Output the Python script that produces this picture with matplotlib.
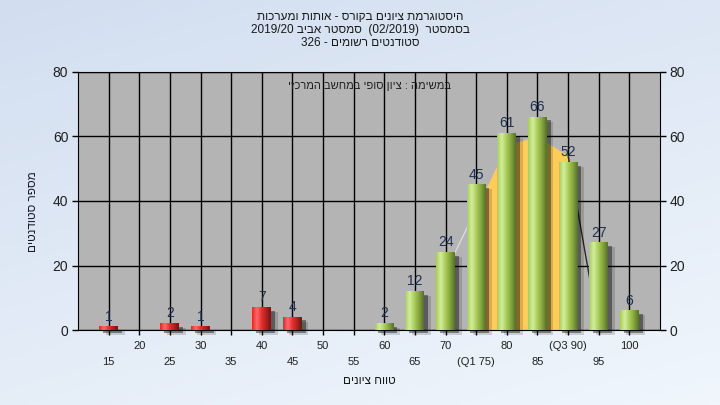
import numpy as np
import matplotlib
matplotlib.use('Agg')
import matplotlib.pyplot as plt
from matplotlib.colors import LinearSegmentedColormap

plt.rcParams['font.family'] = ['Liberation Sans', 'DejaVu Sans']

# data
grades = [15, 20, 25, 30, 35, 40, 45, 50, 55, 60, 65, 70, 75, 80, 85, 90, 95, 100]
counts = [1, 0, 2, 1, 0, 7, 4, 0, 0, 2, 12, 24, 45, 61, 66, 52, 27, 6]
tick_labels = ['15', '20', '25', '30', '35', '40', '45', '50', '55', '60', '65', '70',
               '(Q1 75)', '80', '85', '(Q3 90)', '95', '100']
curve_grades = [70, 75, 80, 85, 90, 95]
curve_values = [18, 37.5, 57.5, 60, 54, 0]
q1, q3 = 75, 90
pass_grade = 60
y_ticks = [0, 20, 40, 60, 80]


def rtl(s):
    # matplotlib has no bidi, so hebrew runs are reversed by hand
    return s[::-1]


title1 = rtl('היסטוגרמת ציונים בקורס - אותות ומערכות')
title2 = '2019/20 ' + rtl('סמסטר אביב') + '  (02/2019)  ' + rtl('בסמסטר')
title3 = '326 - ' + rtl('סטודנטים רשומים')
note = rtl('במשימה : ציון סופי במחשב המרכזי')
ylab = rtl('מספר סטודנטים')
xlab = rtl('טווח ציונים')

pos = np.arange(len(grades))
cpos = (np.array(curve_grades) - grades[0]) / 5.0
cval = np.array(curve_values, dtype=float)

fig = plt.figure(figsize=(7.2, 4.05), dpi=100)

# background gradient
bg = fig.add_axes([0, 0, 1, 1], zorder=-10)
gx, gy = np.meshgrid(np.linspace(0, 1, 200), np.linspace(0, 1, 120))
bg_cmap = LinearSegmentedColormap.from_list('bg', ['#d2def0', '#f0f6fc'])
bg.imshow(0.35 * gx + 0.65 * gy, cmap=bg_cmap, aspect='auto', extent=(0, 1, 1, 0))
bg.axis('off')

ax = fig.add_axes([78 / 720, 1 - 330 / 405, 582 / 720, 258 / 405])
ax.set_facecolor('#b4b4b4')

green = LinearSegmentedColormap.from_list(
    'g', ['#a8cc5c', '#d4ee9e', '#a8cc58', '#84a43e', '#58702a'])
red = LinearSegmentedColormap.from_list(
    'r', ['#e02828', '#ff6a6a', '#e83030', '#b02020', '#701414'])
grad = np.linspace(0, 1, 64).reshape(1, -1)
w = 0.62

for i, h in zip(pos, counts):
    if h == 0:
        continue
    ax.bar(i + 0.12, h, width=w, bottom=-1.0, color='black', alpha=0.4, zorder=3,
           lw=0, clip_on=False)
    ax.bar(i + 0.21, h, width=w, bottom=-1.4, color='black', alpha=0.15, zorder=3,
           lw=0, clip_on=False)
    cm = green if grades[i] >= pass_grade else red
    ax.imshow(grad, cmap=cm, aspect='auto', interpolation='bilinear',
              extent=(i - w / 2, i + w / 2, 0, h), zorder=4)
    ax.text(i, h + 1.9, str(h), ha='center', va='baseline', fontsize=10,
            color='#1f2f4f', zorder=6)

# normal curve and the Q1-Q3 area under it
inq = (cpos >= (q1 - grades[0]) / 5) & (cpos <= (q3 - grades[0]) / 5)
ax.fill_between(cpos[inq], 0, cval[inq], color='#ffcc5a', lw=0, zorder=2)
ax.plot(cpos[:2], cval[:2], color='#dadada', lw=1, zorder=2.5)
ax.plot(cpos[4:], cval[4:], color='#2a2a2a', lw=1, zorder=2.5)

ax.text(8.5, 75.7, note, ha='center', va='center', fontsize=8, color='#202020', zorder=6)

ax.set_xlim(-1, len(grades))
ax.set_ylim(0, 80)
ax.set_yticks(y_ticks)
ax.set_xticks(pos)
ax.set_xticklabels(tick_labels)
ax.grid(True, color='black', lw=1)
ax.set_axisbelow(True)
for s in ax.spines.values():
    s.set_color('black')
ax.tick_params(axis='y', direction='out', length=4.5, width=1, labelsize=10,
               right=True, labelright=True, pad=2.5, colors='black', labelcolor='#202020')
ax.tick_params(axis='x', direction='out', length=3.6, width=1, labelsize=8,
               colors='black', labelcolor='#202020')
for i, t in enumerate(ax.xaxis.get_major_ticks()):
    t.set_pad(16 if i % 2 == 0 else 4)

fig.text(0.5, 1 - 17 / 405, title1, ha='center', va='center', fontsize=8.5, color='#1a1a1a')
fig.text(0.5, 1 - 30 / 405, title2, ha='center', va='center', fontsize=8.5, color='#1a1a1a')
fig.text(0.5, 1 - 43 / 405, title3, ha='center', va='center', fontsize=8.5, color='#1a1a1a')
fig.text(33 / 720, 1 - 212 / 405, ylab, ha='center', va='center', rotation=90,
         fontsize=8.5, color='#1a1a2a')
fig.text(369 / 720, 1 - 381 / 405, xlab, ha='center', va='center', fontsize=8.5,
         color='#1a1a1a')

fig.savefig('out.png', dpi=100)
